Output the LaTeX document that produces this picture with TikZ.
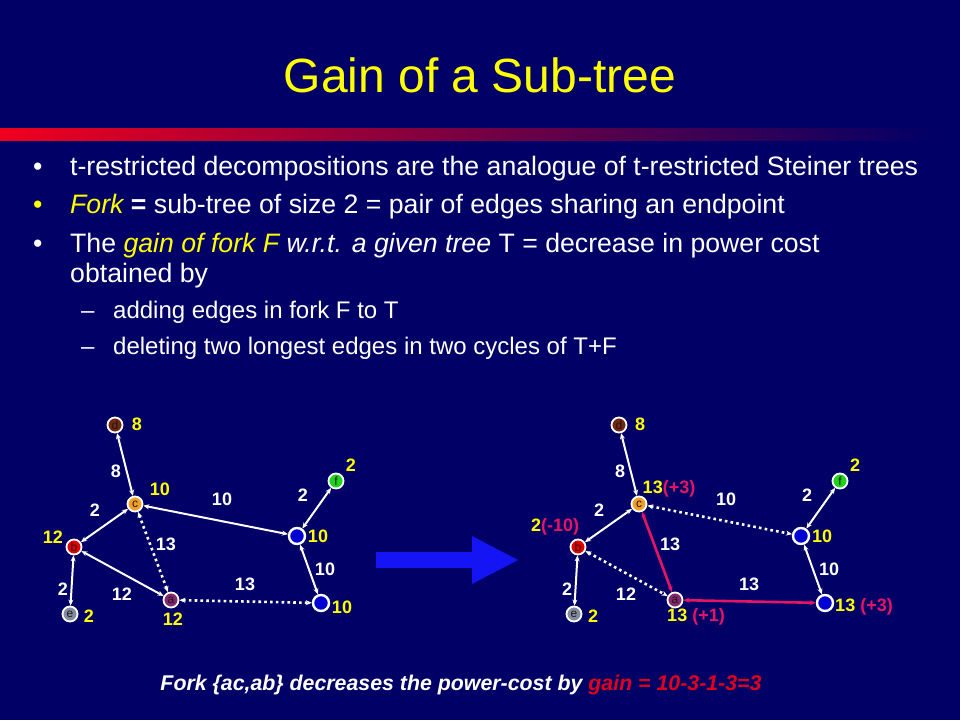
\documentclass[tikz,border=0pt]{standalone}
\usepackage{fontspec}
\setmainfont{Liberation Sans}
\usetikzlibrary{arrows.meta,positioning}
\definecolor{slidebg}{RGB}{0,0,102}
\definecolor{titleyellow}{RGB}{255,255,0}
\definecolor{barred}{RGB}{240,0,30}
\definecolor{barmid}{RGB}{200,0,75}
\definecolor{forkpink}{RGB}{230,20,100}
\definecolor{gainred}{RGB}{224,0,27}
\definecolor{arrowblue}{RGB}{20,20,245}
\definecolor{nodeD}{RGB}{110,40,20}
\definecolor{nodeC}{RGB}{240,160,40}
\definecolor{nodeB}{RGB}{225,0,0}
\definecolor{nodeE}{RGB}{130,140,160}
\definecolor{nodeA}{RGB}{130,40,110}
\definecolor{nodeF}{RGB}{30,210,30}
\definecolor{nodeG}{RGB}{0,0,210}
\definecolor{letterdark}{RGB}{40,20,20}
\begin{document}
\begin{tikzpicture}[x=1pt,y=-1pt,
  vert/.style={circle,draw=white,line width=1.8pt,minimum size=15pt,inner sep=0pt,
    font=\fontsize{12}{12}\selectfont,text=letterdark},
  hub/.style={circle,draw=white,line width=2.4pt,minimum size=16pt,inner sep=0pt,fill=nodeG},
  cost/.style={text=titleyellow,font=\bfseries\fontsize{18}{20}\selectfont,inner sep=0pt},
  weight/.style={text=white,font=\bfseries\fontsize{18}{20}\selectfont,inner sep=0pt},
  link/.style={draw=white,line width=2pt,{Stealth[length=6pt,width=5pt]}-{Stealth[length=6pt,width=5pt]}},
  dotlink/.style={link,line width=2.6pt,dash pattern=on 2.6pt off 3.2pt},
  forklink/.style={link,draw=forkpink,line width=2.6pt},
  bullettext/.style={anchor=base west,text=white,inner sep=0pt,font=\fontsize{26.67}{32}\selectfont},
  subtext/.style={anchor=base west,text=white,inner sep=0pt,font=\fontsize{24}{28}\selectfont}]

\fill[slidebg] (0,0) rectangle (960,720);
\useasboundingbox (0,0) rectangle (960,720);

% title and bar
\node[anchor=base,text=titleyellow,inner sep=0pt,font=\fontsize{48}{56}\selectfont] (title) at (480,92) {Gain of a Sub-tree};
\shade[left color=barred,middle color=barmid,right color=slidebg] (0,128) rectangle (940,140);

% bullets
\node[bullettext] (dot1) at (33,175) {•};
\node[bullettext] (line1) at (70,175) {t-restricted decompositions are the analogue of t-restricted Steiner trees};
\node[bullettext,text=titleyellow] (dot2) at (33,213.5) {•};
\node[bullettext] (line2) at (70,213.5) {\textcolor{titleyellow}{\itshape Fork} \textbf{=} sub-tree of size 2 = pair of edges sharing an endpoint};
\node[bullettext] (dot3) at (33,252) {•};
\node[bullettext] (line3) at (70,252) {The \textcolor{titleyellow}{\itshape gain of fork F} {\itshape w.r.t. a given tree} T = decrease in power cost};
\node[bullettext] (line3b) at (70,282) {obtained by};
\node[subtext] (dash1) at (81,318.5) {–};
\node[subtext] (sub1) at (113,318.5) {adding edges in fork F to T};
\node[subtext] (dash2) at (81,354) {–};
\node[subtext] (sub2) at (113,354) {deleting two longest edges in two cycles of T+F};

% the two graphs
\foreach \side/\dx in {L/0,R/504}{
  \foreach \v/\x/\y/\col in {d/115/425/nodeD,c/135/504/nodeC,b/74/547/nodeB,e/70/614/nodeE,a/171/600/nodeA,f/336/481/nodeF}
    \node[vert,fill=\col] (\side\v) at (\x+\dx,\y) {\v};
  \foreach \v/\x/\y in {g/297/536,h/321/603}
    \node[hub] (\side\v) at (\x+\dx,\y) {};
  \foreach \t/\x/\y [count=\i] in {8/116/471,2/95/510,10/222/499,2/303/495,10/325/569,13/166/544,13/245/584,12/122/594,2/63/589}
    \node[weight] (\side-w\i) at (\x+\dx,\y) {\t};
  \draw[link] (\side d) -- (\side c);
  \draw[link] (\side c) -- (\side b);
  \draw[link] (\side b) -- (\side e);
  \draw[link] (\side f) -- (\side g);
  \draw[link] (\side g) -- (\side h);
}
\draw[link] (Lc) -- (Lg);
\draw[link] (Lb) -- (La);
\draw[dotlink] (Lc) -- (La);
\draw[dotlink] (La) -- (Lh);
\draw[dotlink] (Rc) -- (Rg);
\draw[dotlink] (Rb) -- (Ra);
\draw[forklink] (Rc) -- (Ra);
\draw[forklink] (Ra) -- (Rh);

% power costs
\node[cost] (Ld-cost) at (137,424) {8};
\node[cost] (Lc-cost) at (160,489) {10};
\node[cost] (Lb-cost) at (53,537) {12};
\node[cost] (Le-cost) at (89,616) {2};
\node[cost] (La-cost) at (173,619) {12};
\node[cost] (Lg-cost) at (318,536) {10};
\node[cost] (Lh-cost) at (342,607) {10};
\node[cost] (Lf-cost) at (351,465) {2};
\node[cost] (Rd-cost) at (640,424) {8};
\node[cost] (Rc-cost) at (669,489) {13\textcolor{forkpink}{(+3)}};
\node[cost] (Rb-cost) at (555,527) {2\textcolor{forkpink}{(-10)}};
\node[cost] (Re-cost) at (593,616) {2};
\node[cost] (Ra-cost) at (696,617) {13 \textcolor{forkpink}{(+1)}};
\node[cost] (Rg-cost) at (822,536) {10};
\node[cost] (Rh-cost) at (864,607) {13 \textcolor{forkpink}{(+3)}};
\node[cost] (Rf-cost) at (855,465) {2};

% big arrow
\fill[arrowblue] (376,552) -- (472,552) -- (472,536) -- (518,560) -- (472,584) -- (472,568) -- (376,568) -- cycle;

\node[anchor=base,text=white,inner sep=0pt,font=\bfseries\itshape\fontsize{21.33}{24}\selectfont] (summary) at (461,690)
  {Fork \{ac,ab\} decreases the power-cost by \textcolor{gainred}{gain = 10-3-1-3=3}};
\end{tikzpicture}
\end{document}
